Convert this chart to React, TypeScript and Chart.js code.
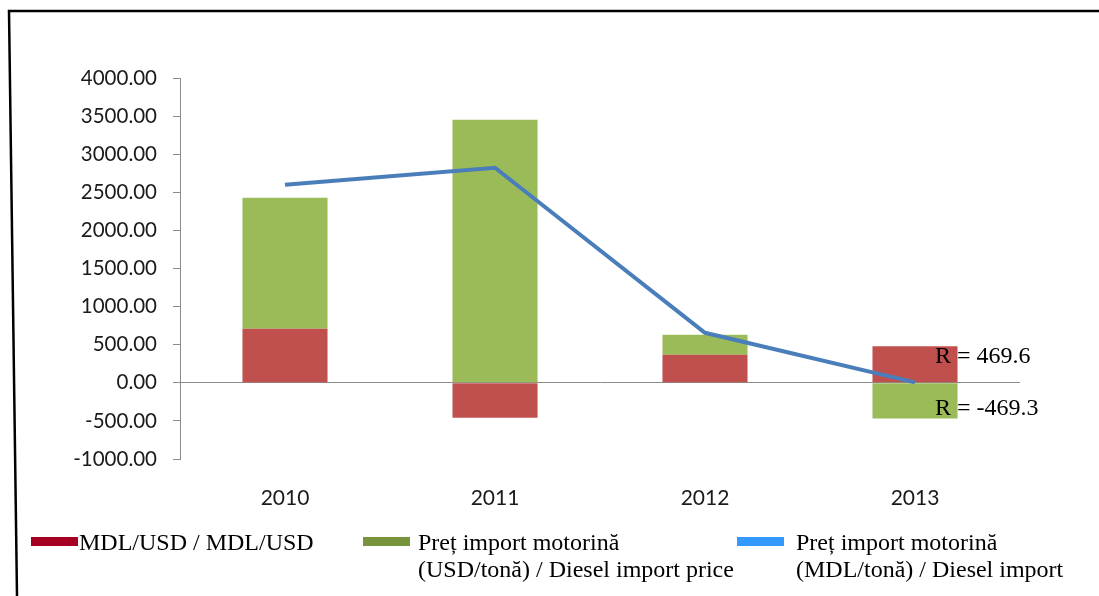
import React, { useEffect, useRef } from "react";
import { Chart, registerables } from "chart.js";

Chart.register(...registerables);

const categories = ["2010", "2011", "2012", "2013"];
const mdlUsd = [709, -459, 367, 480];
const dieselUsd = [1719, 3451, 263, -469.3];
const dieselMdl = [2598, 2822, 656, 5];
const yTicksMin = -1000;
const yTicksMax = 4000;
const yTickStep = 500;
const annotationLabels = ["R = 469.6", "R = -469.3"];
const annotationValues = [469.6, -469.3];

const seriesNames = [
  "MDL/USD / MDL/USD",
  "Preț import motorină\n(USD/tonă) / Diesel import price",
  "Preț import motorină\n(MDL/tonă) / Diesel import",
];

const framePlugin = {
  id: "frameAndNotes",
  afterDraw(chart: any) {
    const ctx = chart.ctx;
    const x = chart.scales.x;
    const y = chart.scales.y;
    ctx.save();
    ctx.font = '24px "Liberation Serif", serif';
    ctx.fillStyle = "#000";
    ctx.textAlign = "left";
    ctx.textBaseline = "middle";
    const xc = x.getPixelForValue(3) + 20;
    annotationLabels.forEach((t, i) => {
      ctx.fillText(t, xc, y.getPixelForValue(annotationValues[i] * 0.72));
    });
    ctx.strokeStyle = "#000";
    ctx.lineWidth = 2.5;
    ctx.beginPath();
    ctx.moveTo(1099, 11);
    ctx.lineTo(9, 11);
    ctx.lineTo(17, 596);
    ctx.stroke();
    ctx.restore();
  },
};

export default function App() {
  const ref = useRef<HTMLCanvasElement>(null);

  useEffect(() => {
    document.body.style.margin = "0";
    const chart = new Chart(ref.current!, {
      type: "bar",
      data: {
        labels: categories,
        datasets: [
          {
            type: "line",
            label: seriesNames[2],
            data: dieselMdl,
            borderColor: "#4A7EBB",
            backgroundColor: "#4A7EBB",
            borderWidth: 4,
            pointRadius: 0,
            tension: 0,
            stack: "line",
            order: 0,
          } as any,
          {
            label: seriesNames[0],
            data: mdlUsd,
            backgroundColor: "#C0504D",
            stack: "bars",
            order: 1,
            barPercentage: 0.405,
            categoryPercentage: 1,
          },
          {
            label: seriesNames[1],
            data: dieselUsd,
            backgroundColor: "#9BBB59",
            stack: "bars",
            order: 1,
            barPercentage: 0.405,
            categoryPercentage: 1,
          },
        ],
      },
      options: {
        responsive: false,
        animation: false,
        devicePixelRatio: 1,
        layout: { padding: { top: 78, right: 79, left: 0, bottom: 0 } },
        plugins: { legend: { display: false }, tooltip: { enabled: false } },
        scales: {
          x: {
            stacked: true,
            grid: { display: false },
            border: { display: false },
            ticks: {
              padding: 19,
              color: "#1a1a1a",
              font: { family: "Lato", size: 21 },
            },
            afterFit: (s: any) => {
              s.height = 137;
            },
          },
          y: {
            stacked: true,
            min: yTicksMin,
            max: yTicksMax,
            ticks: {
              stepSize: yTickStep,
              padding: 16,
              color: "#1a1a1a",
              font: { family: "Lato", size: 20.5 },
              callback: (v: any) => Number(v).toFixed(2),
            },
            grid: {
              color: (c: any) => (c.tick && c.tick.value === 0 ? "#8C8C8C" : "rgba(0,0,0,0)"),
              tickColor: "#8C8C8C",
              tickLength: 7,
              drawTicks: true,
            },
            border: { display: true, color: "#8C8C8C" },
            afterFit: (s: any) => {
              s.width = 180;
            },
          },
        },
      },
      plugins: [framePlugin],
    });
    return () => chart.destroy();
  }, []);

  const legendColors = ["#A50021", "#77933C", "#3399FF"];
  const swatchX = [31, 363, 737];
  const textX = [79, 418, 796];

  return (
    <div style={{ position: "relative", width: 1099, height: 596, overflow: "hidden", background: "#fff" }}>
      <canvas ref={ref} width={1099} height={596} style={{ display: "block" }} />
      {seriesNames.map((name, i) => (
        <React.Fragment key={i}>
          <div
            style={{
              position: "absolute",
              left: swatchX[i],
              top: 537,
              width: 47,
              height: 9,
              background: legendColors[i],
            }}
          />
          <div
            style={{
              position: "absolute",
              left: textX[i],
              top: 529,
              font: '24px/27px "Liberation Serif", serif',
              color: "#000",
              whiteSpace: "pre",
            }}
          >
            {name}
          </div>
        </React.Fragment>
      ))}
    </div>
  );
}
